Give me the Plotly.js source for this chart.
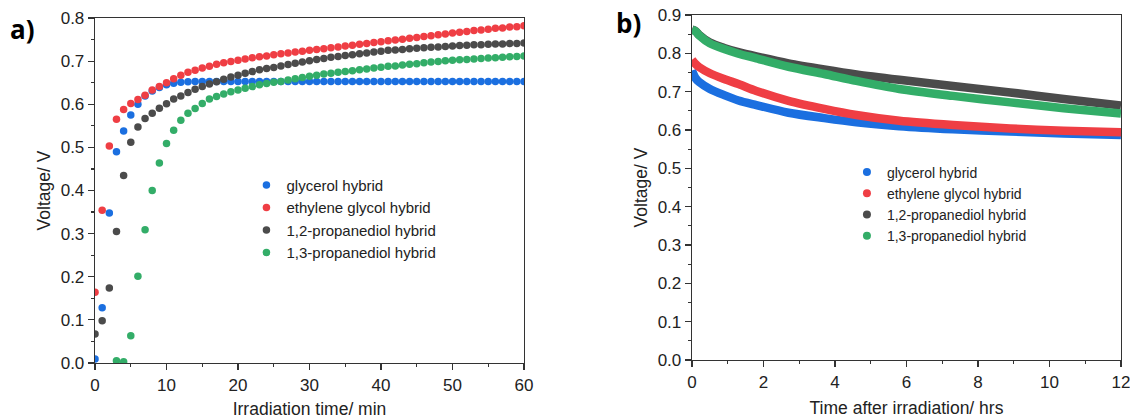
<!DOCTYPE html>
<html>
<head>
<meta charset="utf-8">
<script src="https://cdn.plot.ly/plotly-3.0.1.min.js"></script>
<style>html,body{margin:0;padding:0;background:#fff;}#chart{width:1130px;height:419px;}</style>
</head>
<body>
<div id="chart"></div>
<script>
// ---------- Panel a: voltage during irradiation (per minute) ----------
const minutesA = [0,1,2,3,4,5,6,7,8,9,10,11,12,13,14,15,16,17,18,19,20,21,22,23,24,25,26,27,28,29,30,31,32,33,34,35,36,37,38,39,40,41,42,43,44,45,46,47,48,49,50,51,52,53,54,55,56,57,58,59,60];
const glycerolA = [0.009,0.128,0.348,0.490,0.538,0.575,0.600,0.619,0.631,0.639,
  0.645,0.649,0.651,0.652,0.653,0.653,0.653,0.653,0.653,0.653,
  0.653,0.653,0.653,0.653,0.653,0.653,0.653,0.653,0.653,0.653,
  0.653,0.653,0.653,0.653,0.653,0.653,0.653,0.653,0.653,0.653,
  0.653,0.653,0.653,0.653,0.653,0.653,0.653,0.653,0.653,0.653,
  0.653,0.653,0.653,0.653,0.653,0.653,0.653,0.653,0.653,0.653,
  0.653];
const ethyleneA = [0.164,0.354,0.503,0.565,0.588,0.602,0.611,0.621,0.633,0.641,
  0.650,0.659,0.667,0.674,0.679,0.684,0.688,0.693,0.696,0.699,
  0.702,0.705,0.708,0.710,0.712,0.715,0.717,0.719,0.721,0.723,
  0.725,0.727,0.729,0.731,0.733,0.735,0.737,0.739,0.741,0.743,
  0.745,0.747,0.749,0.751,0.753,0.755,0.757,0.759,0.761,0.763,
  0.765,0.767,0.769,0.771,0.772,0.774,0.776,0.777,0.779,0.780,
  0.782];
const propane12A = [0.067,0.098,0.174,0.305,0.435,0.512,0.547,0.567,0.579,0.591,
  0.601,0.612,0.619,0.627,0.635,0.641,0.647,0.652,0.658,0.663,
  0.667,0.672,0.676,0.680,0.683,0.685,0.689,0.692,0.695,0.698,
  0.701,0.704,0.706,0.709,0.711,0.713,0.715,0.717,0.719,0.721,
  0.723,0.725,0.726,0.727,0.729,0.730,0.731,0.732,0.733,0.734,
  0.735,0.736,0.737,0.738,0.738,0.739,0.740,0.740,0.741,0.741,
  0.742];
const propane13A = [null,null,null,0.005,0.003,0.063,0.201,0.309,0.400,0.464,
  0.509,0.540,0.563,0.579,0.590,0.602,0.612,0.618,0.624,0.629,
  0.633,0.637,0.641,0.645,0.648,0.651,0.653,0.656,0.659,0.662,
  0.665,0.667,0.670,0.672,0.674,0.676,0.678,0.680,0.682,0.684,
  0.686,0.688,0.689,0.691,0.693,0.694,0.696,0.698,0.699,0.701,
  0.702,0.703,0.704,0.705,0.706,0.707,0.708,0.709,0.710,0.711,
  0.712];

// ---------- Panel b: voltage decay after irradiation ----------
const hoursB      = [0, 0.1, 0.2, 0.5, 0.9, 1.3, 1.8, 2.7, 3.7, 4.6, 5.8, 7.3, 8.9, 10.4, 12];
const glycerolB   = [0.755,0.735,0.725,0.707,0.691,0.677,0.665,0.645,0.631,0.620,0.610,0.602,0.596,0.591,0.587];
const ethyleneB   = [0.783,0.772,0.764,0.748,0.733,0.720,0.702,0.676,0.655,0.639,0.624,0.613,0.604,0.598,0.594];
const propane12B  = [0.862,0.858,0.848,0.828,0.814,0.803,0.792,0.774,0.758,0.745,0.731,0.715,0.698,0.681,0.664];
const propane13B  = [0.862,0.857,0.847,0.826,0.811,0.799,0.787,0.765,0.746,0.728,0.707,0.689,0.672,0.657,0.643];

const seriesNames = ['glycerol hybrid','ethylene glycol hybrid','1,2-propanediol hybrid','1,3-propanediol hybrid'];
const seriesColors = ['#1b6fe0','#ef3e44','#4b4b4b','#33ad68'];

const FONT = 'Liberation Sans, Arial, sans-serif';
const dataA = [glycerolA, ethyleneA, propane12A, propane13A];
const dataB = [glycerolB, ethyleneB, propane12B, propane13B];

const traces = [];
dataA.forEach((ys, i) => {
  traces.push({
    x: minutesA, y: ys, type: 'scatter', mode: 'markers',
    name: seriesNames[i], legend: 'legend',
    marker: {color: seriesColors[i], size: 7.5},
    xaxis: 'x', yaxis: 'y'
  });
});
dataB.forEach((ys, i) => {
  traces.push({
    x: hoursB, y: ys, type: 'scatter', mode: 'lines',
    name: seriesNames[i], showlegend: false,
    line: {color: seriesColors[i], width: 8.5, shape: 'spline', smoothing: 0.8},
    xaxis: 'x2', yaxis: 'y2'
  });
});
// legend entries for panel b (dots, as in the original legend)
seriesNames.forEach((n, i) => {
  traces.push({
    x: [null], y: [null], type: 'scatter', mode: 'markers',
    name: n, legend: 'legend2',
    marker: {color: seriesColors[i], size: 8},
    xaxis: 'x2', yaxis: 'y2'
  });
});

const TICKSIZE = 17;
const TITLESIZE = 17.5;
const axisCommon = {
  showgrid: false, zeroline: false, showline: true, mirror: true,
  linecolor: '#333', linewidth: 1.3,
  ticks: 'outside', ticklen: 6, tickwidth: 1.2, tickcolor: '#333',
  tickfont: {family: FONT, size: TICKSIZE, color: '#222'},
  ticklabeloverflow: 'allow',
  fixedrange: true
};

const layout = {
  width: 1130, height: 419,
  margin: {l: 0, r: 0, t: 0, b: 0},
  paper_bgcolor: '#fff', plot_bgcolor: '#fff',
  font: {family: FONT, color: '#222'},
  xaxis: Object.assign({}, axisCommon, {
    domain: [0.0841, 0.4637], range: [0, 60], dtick: 10, tick0: 0,
    minor: {dtick: 5, ticklen: 3, ticks: 'outside', tickcolor: '#333'},
    title: {text: 'Irradiation time/ min', font: {family: FONT, size: TITLESIZE, color: '#222'}, standoff: 10},
    anchor: 'y'
  }),
  yaxis: Object.assign({}, axisCommon, {
    domain: [0.1337, 0.957], range: [0, 0.8], dtick: 0.1, tick0: 0, tickformat: '.1f',
    minor: {dtick: 0.05, ticklen: 3, ticks: 'outside', tickcolor: '#333'},
    title: {text: 'Voltage/ V', font: {family: FONT, size: TITLESIZE, color: '#222'}, standoff: 5},
    anchor: 'x'
  }),
  xaxis2: Object.assign({}, axisCommon, {
    domain: [0.6124, 0.992], range: [0, 12], dtick: 2, tick0: 0,
    minor: {dtick: 1, ticklen: 3, ticks: 'outside', tickcolor: '#333'},
    title: {text: 'Time after irradiation/ hrs', font: {family: FONT, size: TITLESIZE, color: '#222'}, standoff: 11},
    anchor: 'y2'
  }),
  yaxis2: Object.assign({}, axisCommon, {
    domain: [0.1408, 0.9642], range: [0, 0.9], dtick: 0.1, tick0: 0, tickformat: '.1f',
    minor: {dtick: 0.05, ticklen: 3, ticks: 'outside', tickcolor: '#333'},
    title: {text: 'Voltage/ V', font: {family: FONT, size: TITLESIZE, color: '#222'}, standoff: 5},
    anchor: 'x2'
  }),
  legend: {
    x: 0.2181, y: 0.597, xanchor: 'left', yanchor: 'top',
    bgcolor: 'rgba(0,0,0,0)', borderwidth: 0,
    font: {family: FONT, size: 15, color: '#222'}, tracegroupgap: 0
  },
  legend2: {
    x: 0.7495, y: 0.6265, xanchor: 'left', yanchor: 'top',
    bgcolor: 'rgba(0,0,0,0)', borderwidth: 0,
    font: {family: FONT, size: 14, color: '#222'}, tracegroupgap: 0
  },
  annotations: [
    {text: '<b>a)</b>', xref: 'paper', yref: 'paper', x: 22/1130, y: 1 - 29/419,
     xanchor: 'center', yanchor: 'middle', showarrow: false,
     font: {family: 'Open Sans, sans-serif', size: 26, color: '#000'}},
    {text: '<b>b)</b>', xref: 'paper', yref: 'paper', x: 628/1130, y: 1 - 23/419,
     xanchor: 'center', yanchor: 'middle', showarrow: false,
     font: {family: 'Open Sans, sans-serif', size: 26, color: '#000'}}
  ],
  showlegend: true
};

Plotly.newPlot('chart', traces, layout, {displayModeBar: false, staticPlot: true});
</script>
</body>
</html>
